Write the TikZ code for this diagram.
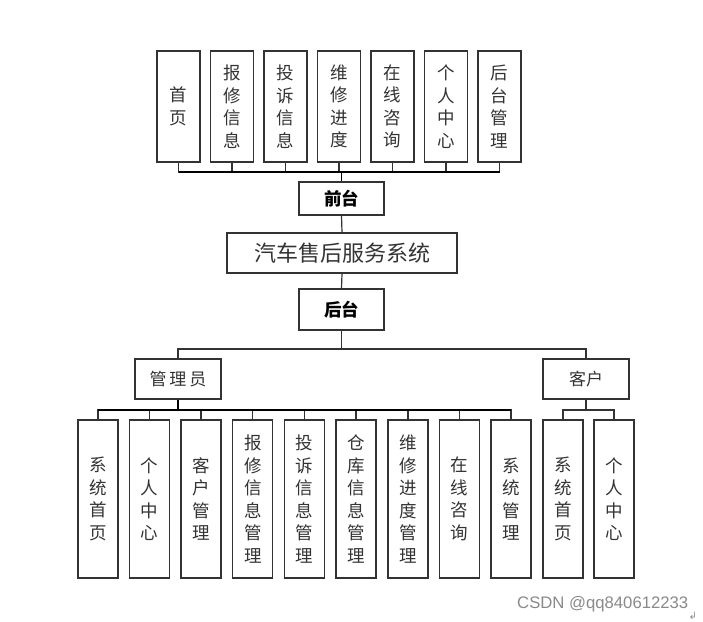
\documentclass[tikz,border=0pt]{standalone}
\usepackage{fontspec}
\newfontfamily\cjk{Noto Sans CJK SC}
\newfontfamily\wmfont{Liberation Sans}
\newfontfamily\symfont{DejaVu Sans}
\definecolor{boxline}{HTML}{333333}
\definecolor{txt}{HTML}{333333}
\definecolor{wm}{HTML}{8A8A8A}
\begin{document}
\begin{tikzpicture}[x=1pt,y=-1pt,
  box/.style={draw=boxline,line width=1.2pt,fill=white,inner sep=0pt,align=center,text=txt},
  vbox/.style={box,minimum width=#1,font=\cjk\fontsize{17.5}{22.5}\selectfont},
  topbox/.style={vbox=43pt,minimum height=111pt},
  botbox/.style={vbox=40pt,minimum height=158pt},
  hbox/.style={box,font=\cjk\fontsize{17}{20}\selectfont},
  boldbox/.style={box,text=black,font=\cjk\bfseries\fontsize{17.5}{20}\selectfont},
  conn/.style={draw=boxline,line width=1.2pt},
  bus/.style={draw=black,line width=1.5pt}]
\useasboundingbox[fill=white] (0,0) rectangle (703,621);

% top row
\node[topbox] (t1) at (178.5,106.5) {首\\页};
\node[topbox] (t2) at (232,106.5) {报\\修\\信\\息};
\node[topbox] (t3) at (285.5,106.5) {投\\诉\\信\\息};
\node[topbox] (t4) at (339,106.5) {维\\修\\进\\度};
\node[topbox] (t5) at (392.5,106.5) {在\\线\\咨\\询};
\node[topbox] (t6) at (446,106.5) {个\\人\\中\\心};
\node[topbox] (t7) at (499.5,106.5) {后\\台\\管\\理};

\node[boldbox,minimum width=85pt,minimum height=33pt] (qt) at (341.5,198.5) {前台};
\node[hbox,minimum width=230pt,minimum height=40pt,font=\cjk\fontsize{22}{24}\selectfont] (sys) at (342,253) {汽车售后服务系统};
\node[boldbox,minimum width=85pt,minimum height=41pt] (ht) at (341.5,309.5) {后台};

\node[hbox,minimum width=86pt,minimum height=40pt] (admin) at (178,379) {管\,理\,员};
\node[hbox,minimum width=86pt,minimum height=40pt] (cust) at (586,379) {客户};

% bottom row
\node[botbox] (b1) at (98,499) {系\\统\\首\\页};
\node[botbox] (b2) at (149.5,499) {个\\人\\中\\心};
\node[botbox] (b3) at (201,499) {客\\户\\管\\理};
\node[botbox] (b4) at (252.8,499) {报\\修\\信\\息\\管\\理};
\node[botbox] (b5) at (304.5,499) {投\\诉\\信\\息\\管\\理};
\node[botbox] (b6) at (356,499) {仓\\库\\信\\息\\管\\理};
\node[botbox] (b7) at (408,499) {维\\修\\进\\度\\管\\理};
\node[botbox] (b8) at (459.5,499) {在\\线\\咨\\询};
\node[botbox] (b9) at (511,499) {系\\统\\管\\理};
\node[botbox] (b10) at (563,499) {系\\统\\首\\页};
\node[botbox] (b11) at (614,499) {个\\人\\中\\心};

% connectors
\coordinate (topbus) at (341.5,172);
\foreach \i in {1,...,7} \draw[conn] (t\i.south) |- (topbus);
\draw[bus] (t1.south |- topbus) -- (t7.south |- topbus);
\draw[bus] (topbus) -- (qt.north);
\draw[conn] (qt.south) -- (sys.north);
\draw[conn] (sys.south) -- (ht.north);
\coordinate (midbus) at (341.5,349);
\draw[conn] (ht.south) -- (midbus);
\draw[conn] (admin.north) |- (midbus) -| (cust.north);

\coordinate (adminbus) at (178,410);
\draw[bus] (admin.south) -- (adminbus);
\foreach \i in {1,...,9} \draw[conn] (b\i.north) |- (adminbus);
\draw[bus] (b1.north |- adminbus) -- (b9.north |- adminbus);

\coordinate (custbus) at (586,410);
\draw[conn] (cust.south) -- (custbus);
\foreach \i in {10,11} \draw[conn] (b\i.north) |- (custbus);

% watermark
\node[anchor=base west,inner sep=0pt,text=wm,font=\wmfont\fontsize{16.7}{18}\selectfont] (wmk) at (517,608) {CSDN @qq840612233};
\node[anchor=north west,inner sep=0pt,text=wm,font=\symfont\fontsize{10}{10}\selectfont] (ret) at (wmk.south east) {↲};
\end{tikzpicture}
\end{document}
